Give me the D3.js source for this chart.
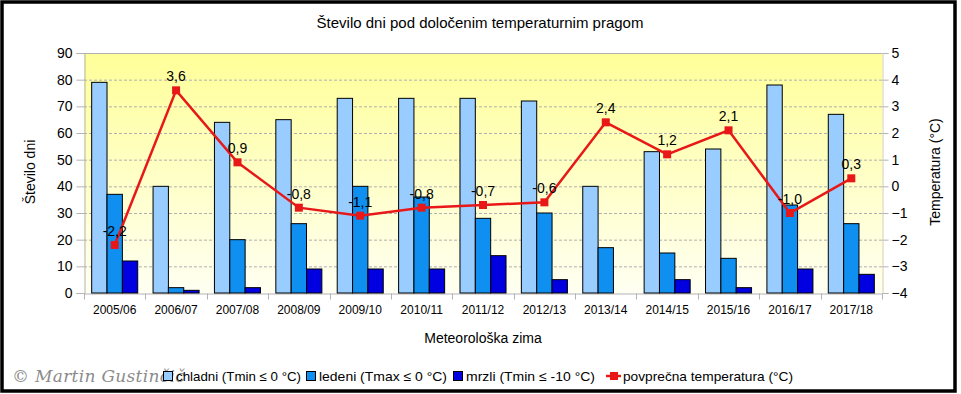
<!DOCTYPE html>
<html>
<head>
<meta charset="utf-8">
<script src="https://cdn.jsdelivr.net/npm/d3@7"></script>
<style>
  body { margin: 0; background: #fff; }
  svg { display: block; font-family: "Liberation Sans", Arial, sans-serif; }
</style>
</head>
<body>
<svg id="chart" width="961" height="394"></svg>
<script>
// data
const seasons = ['2005/06', '2006/07', '2007/08', '2008/09', '2009/10', '2010/11', '2011/12',
  '2012/13', '2013/14', '2014/15', '2015/16', '2016/17', '2017/18'];
const chladni = [79, 40, 64, 65, 73, 73, 73, 72, 40, 53, 54, 78, 67];
const ledeni = [37, 2, 20, 26, 40, 36, 28, 30, 17, 15, 13, 33, 26];
const mrzli = [12, 1, 2, 9, 9, 9, 14, 5, 0, 5, 2, 9, 7];
const temperatura = [-2.2, 3.6, 0.9, -0.8, -1.1, -0.8, -0.7, -0.6, 2.4, 1.2, 2.1, -1.0, 0.3];
const leftTicks = [0, 10, 20, 30, 40, 50, 60, 70, 80, 90];
const rightTicks = [-4, -3, -2, -1, 0, 1, 2, 3, 4, 5];

const seriesNames = ['chladni (Tmin ≤ 0 °C)', 'ledeni (Tmax ≤ 0 °C)', 'mrzli (Tmin ≤ -10 °C)'];
const seriesValues = [chladni, ledeni, mrzli];
const seriesColors = ['#99ccff', '#0f8ff0', '#0000e0'];
const lineColor = '#e81818';

const svg = d3.select('#chart');
const plot = { left: 84, right: 882, top: 53, bottom: 293 };

// scales
const x = d3.scaleBand().domain(seasons).range([plot.left, plot.right]);
const xs = d3.scaleBand().domain(d3.range(3)).range([0, x.bandwidth()]).paddingOuter(0.5);
const y = d3.scaleLinear().domain([0, 90]).range([plot.bottom, plot.top]);
const yT = d3.scaleLinear().domain([-4, 5]).range([plot.bottom, plot.top]);

// outer frame
svg.append('rect')
  .attr('x', 2).attr('y', 2).attr('width', 953).attr('height', 389)
  .attr('fill', '#fff').attr('stroke', '#000').attr('stroke-width', 3.5);

// plot background
const grad = svg.append('defs').append('linearGradient')
  .attr('id', 'bg').attr('x1', 0).attr('y1', 0).attr('x2', 0).attr('y2', 1);
grad.append('stop').attr('offset', '0%').attr('stop-color', '#ffff99');
grad.append('stop').attr('offset', '100%').attr('stop-color', '#fffff2');

svg.append('rect')
  .attr('x', plot.left).attr('y', plot.top)
  .attr('width', plot.right - plot.left).attr('height', plot.bottom - plot.top)
  .attr('fill', 'url(#bg)');

// grid lines
svg.append('g')
  .selectAll('line')
  .data(leftTicks.filter(d => d > 0 && d < 90))
  .join('line')
  .attr('x1', plot.left).attr('x2', plot.right)
  .attr('y1', d => y(d) + 0.5).attr('y2', d => y(d) + 0.5)
  .attr('stroke', '#b0b0b0').attr('stroke-dasharray', '3,2');

svg.append('line')
  .attr('x1', plot.left).attr('x2', plot.right)
  .attr('y1', plot.top + 0.5).attr('y2', plot.top + 0.5)
  .attr('stroke', '#b3b3b3');

// left axis
const gL = svg.append('g')
  .attr('transform', `translate(${plot.left + 0.5},0)`)
  .call(d3.axisLeft(y).tickValues(leftTicks).tickSize(8).tickPadding(4));
gL.selectAll('text').attr('font-size', 14).attr('fill', '#000').attr('font-family', null);

// right axis
const gR = svg.append('g')
  .attr('transform', `translate(${plot.right + 0.5},0)`)
  .call(d3.axisRight(yT).tickValues(rightTicks).tickSize(6).tickPadding(3));
gR.selectAll('text').attr('font-size', 14).attr('fill', '#000').attr('font-family', null);

// bottom axis
const gB = svg.append('g')
  .attr('transform', `translate(0,${plot.bottom + 0.5})`)
  .call(d3.axisBottom(x).tickSizeInner(0).tickSizeOuter(0).tickPadding(12));
gB.selectAll('text').attr('font-size', 12).attr('fill', '#000').attr('font-family', null);
gB.selectAll('.tick line').remove();
gB.append('g')
  .selectAll('line')
  .data(seasons.concat(['end']))
  .join('line')
  .attr('x1', (d, i) => Math.round(plot.left + i * x.step()) + 0.5)
  .attr('x2', (d, i) => Math.round(plot.left + i * x.step()) + 0.5)
  .attr('y1', 0).attr('y2', 6)
  .attr('stroke', '#b3b3b3');

[gL, gR, gB].forEach(g => {
  g.select('.domain').attr('stroke', '#b3b3b3');
  g.selectAll('.tick line').attr('stroke', '#b3b3b3');
});
gR.select('.domain').attr('stroke', '#d8d0a0');

// bars
seriesValues.forEach((vals, s) => {
  svg.append('g')
    .selectAll('rect')
    .data(vals)
    .join('rect')
    .attr('x', (d, i) => x(seasons[i]) + xs(s))
    .attr('y', d => y(d))
    .attr('width', xs.bandwidth())
    .attr('height', d => y(0) - y(d))
    .attr('fill', seriesColors[s])
    .attr('stroke', '#000')
    .attr('stroke-width', d => d > 0 ? 1 : 0);
});

// temperature line
const cx = (d, i) => x(seasons[i]) + x.bandwidth() / 2;
svg.append('path')
  .datum(temperatura)
  .attr('d', d3.line().x(cx).y(d => yT(d)))
  .attr('fill', 'none')
  .attr('stroke', lineColor)
  .attr('stroke-width', 2.5);

svg.append('g')
  .selectAll('rect')
  .data(temperatura)
  .join('rect')
  .attr('x', (d, i) => cx(d, i) - 4)
  .attr('y', d => yT(d) - 4)
  .attr('width', 8).attr('height', 8)
  .attr('fill', lineColor);

svg.append('g')
  .selectAll('text')
  .data(temperatura)
  .join('text')
  .attr('x', cx)
  .attr('y', d => yT(d) - 9)
  .attr('text-anchor', 'middle')
  .attr('font-size', 14)
  .text(d => d3.format('.1f')(d).replace('.', ',').replace('−', '-'));

// titles
svg.append('text')
  .attr('x', 480).attr('y', 28)
  .attr('text-anchor', 'middle').attr('font-size', 15)
  .text('Število dni pod določenim temperaturnim pragom');

svg.append('text')
  .attr('transform', 'translate(35,172) rotate(-90)')
  .attr('text-anchor', 'middle').attr('font-size', 14)
  .text('Število dni');

svg.append('text')
  .attr('transform', 'translate(940,172) rotate(-90)')
  .attr('text-anchor', 'middle').attr('font-size', 14)
  .text('Temperatura (°C)');

svg.append('text')
  .attr('x', 483).attr('y', 343)
  .attr('text-anchor', 'middle').attr('font-size', 14)
  .text('Meteorološka zima');

// watermark
svg.append('text')
  .attr('x', 12).attr('y', 382)
  .attr('font-family', '"DejaVu Serif", serif')
  .attr('font-style', 'italic')
  .attr('font-size', 17)
  .attr('letter-spacing', 0.3)
  .attr('fill', '#8c8c8c')
  .text('© Martin Gustinčič');

// legend
const legendX = [163, 306, 453];
const legendW = [125, 128, 129];
seriesNames.forEach((name, s) => {
  svg.append('rect')
    .attr('x', legendX[s] + 0.5).attr('y', 371.5)
    .attr('width', 9).attr('height', 9)
    .attr('fill', seriesColors[s]).attr('stroke', '#000');
  svg.append('text')
    .attr('x', legendX[s] + 13).attr('y', 381)
    .attr('font-size', 13.5)
    .attr('textLength', legendW[s])
    .attr('lengthAdjust', 'spacingAndGlyphs')
    .text(name);
});
svg.append('line')
  .attr('x1', 606).attr('x2', 621).attr('y1', 376).attr('y2', 376)
  .attr('stroke', lineColor).attr('stroke-width', 2.5);
svg.append('rect')
  .attr('x', 610).attr('y', 372).attr('width', 8).attr('height', 8)
  .attr('fill', lineColor);
svg.append('text')
  .attr('x', 623).attr('y', 381)
  .attr('font-size', 13.5)
  .attr('textLength', 170)
  .attr('lengthAdjust', 'spacingAndGlyphs')
  .text('povprečna temperatura (°C)');
</script>
</body>
</html>
